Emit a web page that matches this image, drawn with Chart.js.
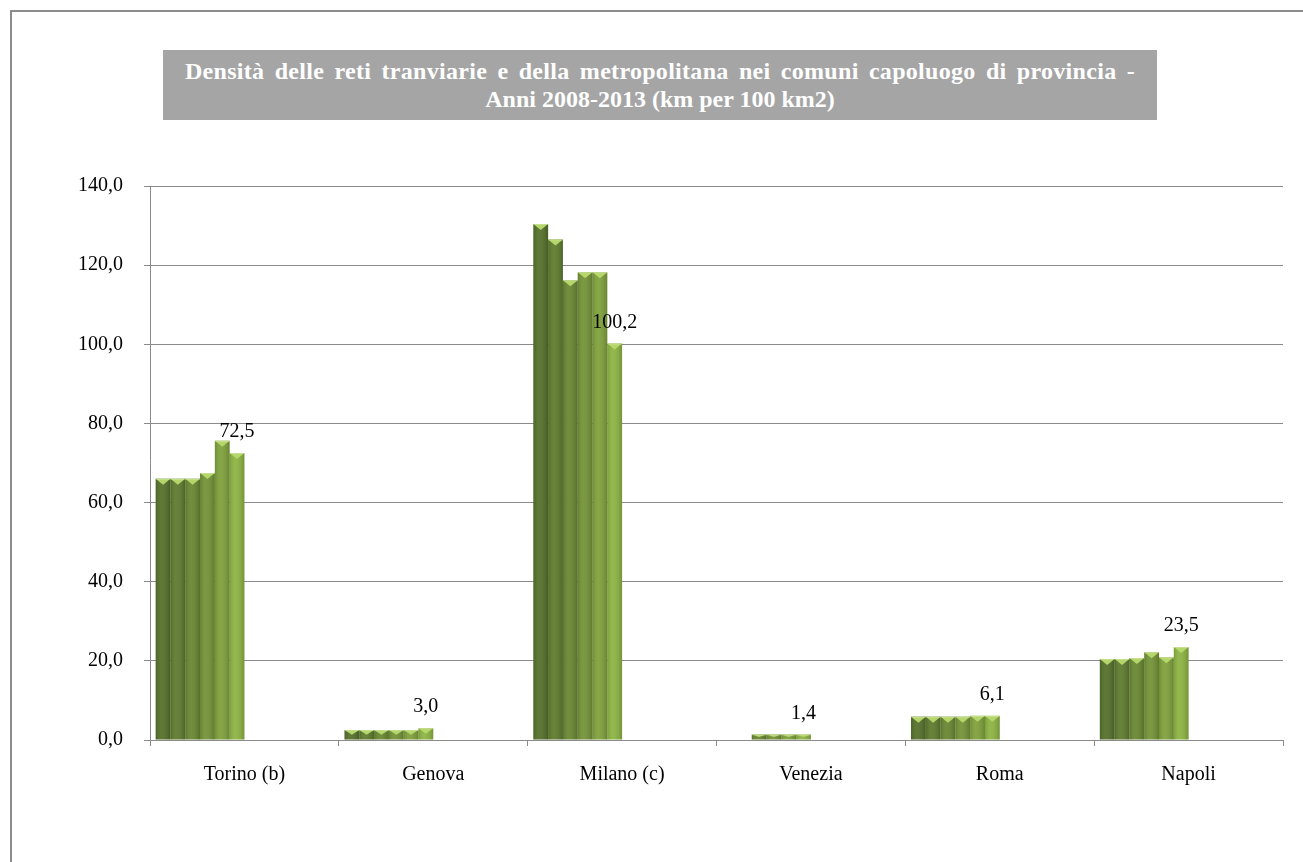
<!DOCTYPE html>
<html lang="it">
<head>
<meta charset="UTF-8">
<title>Densità delle reti tranviarie e della metropolitana</title>
<script src="https://cdn.jsdelivr.net/npm/chart.js"></script>
<style>
  body { margin: 0; background: #fff; }
  #wrap { position: relative; width: 1303px; height: 862px; overflow: hidden; }
  #frame { position: absolute; left: 10px; top: 10px; width: 1400px; height: 900px;
           border: 2px solid #8c8c8c; box-sizing: border-box; }
  #titolo { position: absolute; left: 163px; top: 50px; width: 994px; height: 70px;
            background: #a5a5a5; color: #fff; font: bold 24px "Liberation Serif", serif;
            text-align: center; line-height: 28px; padding-top: 7px; box-sizing: border-box;
            white-space: nowrap; }
  #titolo .r1 { word-spacing: 4px; letter-spacing: 0.3px; }
  canvas { position: absolute; left: 0; top: 0; }
</style>
</head>
<body>
<div id="wrap">
  <canvas id="grafico" width="1303" height="862"></canvas>
  <div id="frame"></div>
  <div id="titolo"><span class="r1">Densità delle reti tranviarie e della metropolitana nei comuni capoluogo di provincia -</span><br>Anni 2008-2013 (km per 100 km2)</div>
</div>
<script>
// dati
const citta = ['Torino (b)', 'Genova', 'Milano (c)', 'Venezia', 'Roma', 'Napoli'];
const anni = ['2008', '2009', '2010', '2011', '2012', '2013'];
const v2008 = [66.0, 2.5, 130.4, null, 5.9, 20.5];
const v2009 = [66.0, 2.5, 126.5, null, 5.9, 20.5];
const v2010 = [66.0, 2.5, 116.2, 1.4, 5.9, 20.7];
const v2011 = [67.5, 2.5, 118.2, 1.4, 5.9, 22.2];
const v2012 = [75.6, 2.5, 118.2, 1.4, 6.1, 20.9];
const v2013 = [72.5, 3.0, 100.2, 1.4, 6.1, 23.5];
const yTicks = [0, 20, 40, 60, 80, 100, 120, 140];

const serie = [v2008, v2009, v2010, v2011, v2012, v2013];
const colori = ['#55702a', '#5e7b2d', '#688731', '#739336', '#7fa13b', '#8db442'];
const fmt = v => v.toFixed(1).replace('.', ',');
const FONT = '"Liberation Serif", "Times New Roman", serif';

const datasets = serie.map((d, i) => ({
  label: anni[i],
  data: d,
  backgroundColor: colori[i],
  borderWidth: 0
}));
// 6 posizioni vuote nel gruppo (le barre stanno nella metà sinistra della categoria)
for (let i = 0; i < 6; i++) {
  datasets.push({ label: '', data: [], backgroundColor: 'rgba(0,0,0,0)' });
}

// effetto rilievo sulle barre + etichetta del 2013
const rilievo = {
  id: 'rilievo',
  afterDatasetsDraw(chart) {
    const ctx = chart.ctx;
    ctx.save();
    serie.forEach((d, i) => {
      const meta = chart.getDatasetMeta(i);
      meta.data.forEach((el, j) => {
        if (d[j] == null) return;
        const { x, y, base, width } = el.getProps(['x', 'y', 'base', 'width'], true);
        const l = x - width / 2, r = x + width / 2;
        const g = ctx.createLinearGradient(l, 0, r, 0);
        g.addColorStop(0, 'rgba(0,0,0,0.12)');
        g.addColorStop(0.35, 'rgba(255,255,255,0.06)');
        g.addColorStop(1, 'rgba(0,0,0,0.18)');
        ctx.fillStyle = g;
        ctx.fillRect(l, y, width, base - y);
        const h = Math.min(6, (base - y) / 2);
        ctx.fillStyle = '#b4d66a';
        ctx.beginPath();
        ctx.moveTo(l, y);
        ctx.lineTo(r, y);
        ctx.lineTo(x, y + h);
        ctx.closePath();
        ctx.fill();
        ctx.fillStyle = 'rgba(255,255,255,0.25)';
        ctx.fillRect(l, y, width, 1);
      });
    });
    const meta = chart.getDatasetMeta(5);
    ctx.fillStyle = '#000';
    ctx.font = '20px ' + FONT;
    ctx.textAlign = 'center';
    ctx.textBaseline = 'middle';
    meta.data.forEach((el, j) => {
      if (v2013[j] == null) return;
      ctx.fillText(fmt(v2013[j]), el.x, el.y - 21);
    });
    ctx.restore();
  }
};

new Chart(document.getElementById('grafico'), {
  type: 'bar',
  data: { labels: citta, datasets: datasets },
  options: {
    responsive: false,
    animation: false,
    layout: { padding: { left: 0, right: 20, top: 186, bottom: 62 } },
    datasets: { bar: { categoryPercentage: 0.94, barPercentage: 1 } },
    plugins: { legend: { display: false }, tooltip: { enabled: false }, title: { display: false } },
    scales: {
      x: {
        grid: { drawOnChartArea: false, offset: true, tickLength: 6, color: '#8a8a8a' },
        border: { color: '#8a8a8a' },
        ticks: { color: '#000', font: { family: FONT, size: 20 }, padding: 17, maxRotation: 0 },
        afterFit: s => { s.height = 60; }
      },
      y: {
        min: 0,
        max: 140,
        afterBuildTicks: s => { s.ticks = yTicks.map(v => ({ value: v })); },
        grid: { color: '#8a8a8a', tickLength: 6 },
        border: { color: '#8a8a8a' },
        ticks: { color: '#000', font: { family: FONT, size: 20 }, padding: 21, callback: v => fmt(v) },
        afterFit: s => { s.width = 150; }
      }
    }
  },
  plugins: [rilievo]
});
</script>
</body>
</html>
